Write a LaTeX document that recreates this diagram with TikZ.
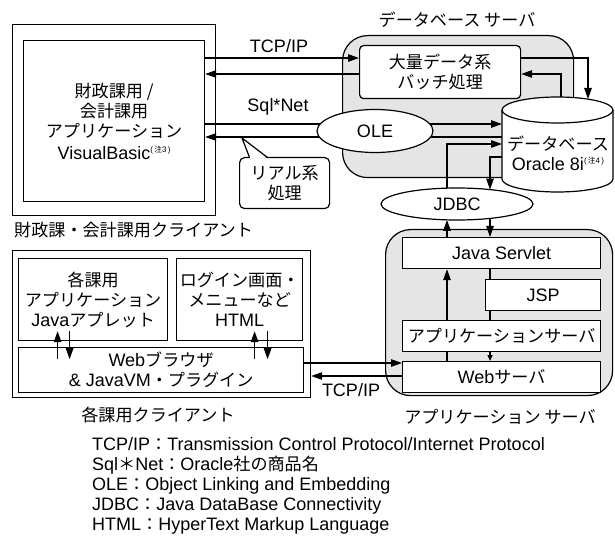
\documentclass[tikz,border=0pt]{standalone}
\usepackage{fontspec}
\setmainfont{Liberation Sans}
\newfontfamily\cjk[Scale=0.95]{Noto Sans CJK JP}
\newcommand\J[1]{{\cjk #1}}
\newcommand\notemark[1]{\raisebox{7pt}{\fontsize{8}{8}\selectfont(\,\J{注}#1\,)}}
\usetikzlibrary{shapes.geometric,arrows.meta}
\pgfdeclarelayer{back}
\pgfdeclarelayer{mid}
\pgfsetlayers{back,mid,main}
\begin{document}
\begin{tikzpicture}[x=1pt,y=-1pt,
  every node/.style={font=\fontsize{18}{20}\selectfont, inner sep=0pt},
  box/.style={draw, line width=1.2pt, fill=white, anchor=north west},
  frame/.style={draw, line width=1.2pt, anchor=north west},
  srv/.style={draw, line width=1.2pt, fill=gray!20, rounded corners=25pt, anchor=north west},
  oval/.style={draw, ellipse, line width=1.2pt, fill=white},
  ln/.style={line width=1.2pt},
  arr/.style={line width=1.2pt, -{Triangle[length=11pt,width=7.5pt]}},
  sarr/.style={line width=1.2pt, -{Triangle[length=6pt,width=5pt]}}]
\useasboundingbox (0,0) rectangle (615,537);

% ---------- server frames (back) ----------
\begin{pgfonlayer}{back}
\node[srv, minimum width=231pt, minimum height=142pt] (dbs) at (342,35) {};
\node[srv, minimum width=227pt, minimum height=166pt] (aps) at (385,229) {};
\end{pgfonlayer}
\node (dbsl) at (457,20) {\J{データベース サーバ}};
\node (apsl) at (500,417) {\J{アプリケーション サーバ}};

% ---------- finance client ----------
\node[frame, minimum width=203pt, minimum height=191pt] (c1) at (12,24) {};
\node[box, minimum width=181pt, minimum height=161pt, align=center] (c1in) at (23,40)
  {\J{財政課用 /}\\\J{会計課用}\\\J{アプリケーション}\\[2pt]VisualBasic\notemark{3}};
\node[anchor=west] (c1l) at (14,230) {\J{財政課・会計課用クライアント}};

% ---------- web client ----------
\node[frame, minimum width=298pt, minimum height=147pt] (wc) at (12,250) {};
\node[box, minimum width=149pt, minimum height=82pt, align=center] (applet) at (18,258)
  {\J{各課用}\\\J{アプリケーション}\\Java\J{アプレット}};
\node[box, minimum width=126pt, minimum height=82pt, align=center] (html) at (176,258)
  {\J{ログイン画面・}\\\J{メニューなど}\\HTML};
\node[box, minimum width=285pt, minimum height=45pt, align=center] (brow) at (18,347)
  {Web\J{ブラウザ}\\\& JavaVM\J{・プラグイン}};
\node (wcl) at (158,415) {\J{各課用クライアント}};

% ---------- database server ----------
\node[box, rounded corners=4pt, minimum width=161pt, minimum height=53pt, align=center] (batch) at (359,45)
  {\J{大量データ系}\\\J{バッチ処理}};
\draw[ln, fill=white] (502,110) -- (502,179)
  arc[start angle=180, end angle=360, x radius=55.5pt, y radius=13pt] -- (613,110)
  arc[start angle=0, end angle=180, x radius=55.5pt, y radius=13pt] -- cycle;
\draw[ln] (502,110) arc[start angle=180, end angle=360, x radius=55.5pt, y radius=13pt];
\node[anchor=north west, minimum width=111pt, minimum height=95pt] (db) at (502,97) {};
\node[align=center] (dbt) at (558,153) {\J{データベース}\\Oracle 8i\notemark{4}};

% ---------- application server ----------
\node[box, minimum width=198pt, minimum height=31pt] (servlet) at (402,237) {Java Servlet};
\node[box, minimum width=115pt, minimum height=31pt] (jsp) at (485,279) {JSP};
\node[box, minimum width=198pt, minimum height=31pt] (appsrv) at (402,320) {\J{アプリケーションサーバ}};
\node[box, minimum width=198pt, minimum height=31pt] (web) at (402,361) {Web\J{サーバ}};

% ---------- helper coordinates ----------
\coordinate (yT1) at (0,58);
\coordinate (yT2) at (0,74);
\coordinate (yS1) at (0,124);
\coordinate (yS2) at (0,137);
\coordinate (yD2) at (0,144);
\coordinate (yD1) at (0,157);
\coordinate (yW1) at (0,363);
\coordinate (yW2) at (0,376);
\coordinate (dbA) at (588,99);
\coordinate (dbB) at (561,97.5);
\coordinate (jdA) at (490,189.6);
\coordinate (jdB) at (447,188.1);
\coordinate (jdAb) at (490,218.4);
\coordinate (jdBb) at (447,219.9);
\coordinate (rtip) at (242,138);

% ---------- connectors ----------
\begin{pgfonlayer}{mid}
\draw[arr] (c1in.east |- yT1) -- (batch.west |- yT1);
\draw[arr] (batch.west |- yT2) -- (c1in.east |- yT2);
\draw[arr] (c1in.east |- yS1) -- (db.west |- yS1);
\draw[arr] (db.west |- yS2) -- (c1in.east |- yS2);
\draw[arr] (batch.east |- yT1) -| (dbA);
\draw[arr] (dbB) |- (batch.east |- yT2);
\draw[arr] (db.west |- yD1) -| (jdA);
\draw[arr] (jdB) |- (db.west |- yD2);
\draw[arr] (servlet.north -| jdB) -- (jdBb);
\draw[arr] (jdAb) -- (servlet.north -| jdA);
\draw[arr] (web.north -| jdB) -- (servlet.south -| jdB);
\draw[sarr] (servlet.south -| jdA) -- (web.north -| jdA);
\draw[arr] (brow.east |- yW1) -- (web.west |- yW1);
\draw[arr] (web.west |- yW2) -- (wc.east |- yW2);
\end{pgfonlayer}

% applet / html <-> browser (on top of boxes)
\draw[arr] ([xshift=-35.5pt,yshift=-18pt]applet.south) -- ([xshift=-35.5pt,yshift=10pt]applet.south);
\draw[arr] ([xshift=-23.5pt,yshift=10pt]applet.south) -- ([xshift=-23.5pt,yshift=-18pt]applet.south);
\draw[arr] ([xshift=15pt,yshift=-18pt]html.south) -- ([xshift=15pt,yshift=10pt]html.south);
\draw[arr] ([xshift=28pt,yshift=10pt]html.south) -- ([xshift=28pt,yshift=-18pt]html.south);

% ---------- ovals ----------
\node[oval, minimum width=116pt, minimum height=43pt] (ole) at (375,131) {OLE};
\node[oval, minimum width=152pt, minimum height=32pt] (jdbc) at (457,204) {JDBC};

% ---------- callout ----------
\node[box, rounded corners=5pt, minimum width=90pt, minimum height=51pt, align=center] (rt) at (239,157)
  {\J{リアル系}\\\J{処理}};
\fill[white] ([xshift=11pt,yshift=-1.6pt]rt.north west) -- (rtip) -- ([xshift=28pt,yshift=-1.6pt]rt.north west) -- cycle;
\draw[ln, line join=miter] ([xshift=10.6pt,yshift=-0.6pt]rt.north west) -- (rtip) -- ([xshift=28.6pt,yshift=-0.6pt]rt.north west);

% ---------- labels ----------
\node (tcp1) at (279,46) {TCP/IP};
\node (sql) at (278,107) {Sql*Net};
\node (tcp2) at (351,390) {TCP/IP};

% ---------- legend ----------
\node[anchor=north west, align=left] (leg) at (92,437)
  {TCP/IP\J{：}Transmission Control Protocol/Internet Protocol\\
   Sql\J{＊}Net\J{：}Oracle\J{社の商品名}\\
   OLE\J{：}Object Linking and Embedding\\
   JDBC\J{：}Java DataBase Connectivity\\
   HTML\J{：}HyperText Markup Language};
\end{tikzpicture}
\end{document}
